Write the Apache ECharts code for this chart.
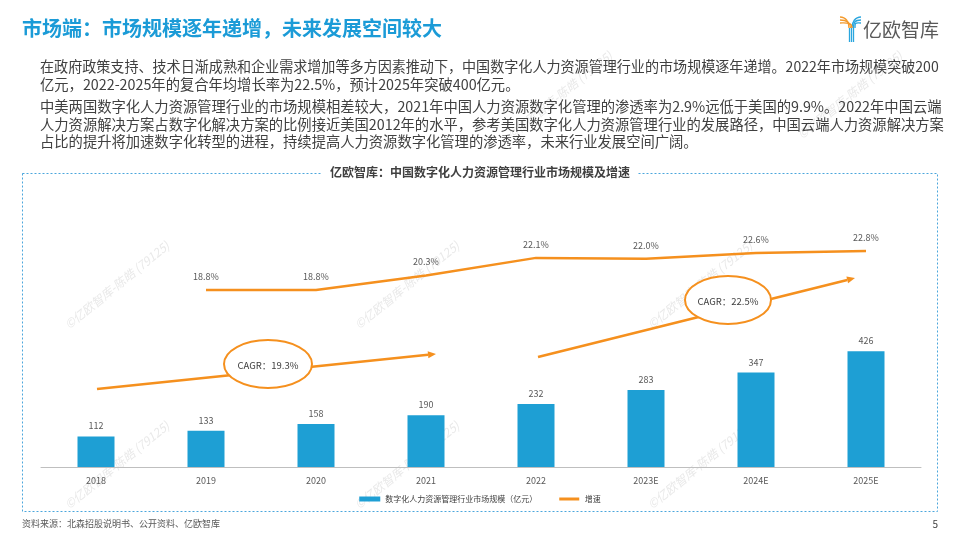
<!DOCTYPE html>
<html><head><meta charset="utf-8">
<script src="https://cdn.jsdelivr.net/npm/echarts@6/dist/echarts.min.js"></script>
<style>html,body{margin:0;padding:0;background:#fff}#c{width:960px;height:540px}</style>
</head><body><div id="c"></div>
<script>
const categories = ['2018','2019','2020','2021','2022','2023E','2024E','2025E'];
const marketSize = [112,133,158,190,232,283,347,426];
const growthRate = [null,18.8,18.8,20.3,22.1,22.0,22.6,22.8];
const barName = '数字化人力资源管理行业市场规模（亿元）';
const lineName = '增速';
const pageTitle = '市场端：市场规模逐年递增，未来发展空间较大';
const chartTitle = '亿欧智库：中国数字化人力资源管理行业市场规模及增速';
const paragraphLines = [
 '在政府政策支持、技术日渐成熟和企业需求增加等多方因素推动下，中国数字化人力资源管理行业的市场规模逐年递增。2022年市场规模突破200',
 '亿元，2022-2025年的复合年均增长率为22.5%，预计2025年突破400亿元。',
 '中美两国数字化人力资源管理行业的市场规模相差较大，2021年中国人力资源数字化管理的渗透率为2.9%远低于美国的9.9%。2022年中国云端',
 '人力资源解决方案占数字化解决方案的比例接近美国2012年的水平，参考美国数字化人力资源管理行业的发展路径，中国云端人力资源解决方案',
 '占比的提升将加速数字化转型的进程，持续提高人力资源数字化管理的渗透率，未来行业发展空间广阔。'
];
const cagrLabels = ['CAGR：19.3%','CAGR：22.5%'];
const sourceText = '资料来源：北森招股说明书、公开资料、亿欧智库';
const watermark = '©亿欧智库-陈皓 (79125)';

const FONT = '"Noto Sans CJK SC","Noto Sans",sans-serif';
const BLUE = '#1E9FD4';
const ORANGE = '#F5901E';

const chart = echarts.init(document.getElementById('c'));

const g = [];
// watermarks
[[117,285],[407,285],[700,285],[117,465],[407,465],[700,465],[560,95],[850,95]].forEach(p=>{
  g.push({type:'text',x:p[0],y:p[1],rotation:0.68,z:0,silent:true,
    style:{text:watermark,fill:'#e9e9e9',font:'italic 12px '+FONT,align:'center',verticalAlign:'middle'}});
});
// header
g.push({type:'text',x:22,y:28,z:5,style:{text:pageTitle,fill:'#1B9BD7',font:'bold 20px '+FONT,verticalAlign:'middle'}});
// logo
g.push({type:'text',x:863,y:30,z:5,style:{text:'亿欧智库',fill:'#595959',font:'19px '+FONT,verticalAlign:'middle'}});
[0,1,2].forEach(i=>{
  g.push({type:'bezierCurve',z:5,shape:{x1:840,y1:17+i*3,cpx1:846,cpy1:17+i*3,x2:849+i*1.5,y2:28,cpx2:849+i*1.5,cpy2:22},
    style:{stroke:'#F39A2D',lineWidth:1.3,fill:null}});
  g.push({type:'bezierCurve',z:5,shape:{x1:861,y1:17+i*3,cpx1:855,cpy1:17+i*3,x2:852+i*1.5,y2:28,cpx2:852+i*1.5,cpy2:22},
    style:{stroke:'#2BA6DE',lineWidth:1.3,fill:null}});
});
[849.5,851.5,853.5].forEach((x,i)=>{
  g.push({type:'line',z:5,shape:{x1:x,y1:28,x2:x,y2:42},style:{stroke:'#2BA6DE',lineWidth:1.3}});
});
// paragraphs
const lineY = [67,84.5,107,124.5,142];
const lineScale = [0.984,1,1,1,1];
paragraphLines.forEach((t,i)=>{
  g.push({type:'text',x:40,y:lineY[i],scaleX:lineScale[i],z:5,style:{text:t,fill:'#404040',font:'14.3px '+FONT,verticalAlign:'middle'}});
});
// dashed box
g.push({type:'rect',z:1,shape:{x:22.5,y:173.5,width:915,height:338},style:{fill:null,stroke:'#4BA6DC',lineWidth:1,lineDash:[2,2]}});
g.push({type:'rect',z:2,shape:{x:322,y:165,width:316,height:16},style:{fill:'#fff'}});
g.push({type:'text',x:480,y:172,z:3,style:{text:chartTitle,fill:'#404040',font:'bold 12px '+FONT,align:'center',verticalAlign:'middle'}});
// footer
g.push({type:'text',x:22,y:524,z:5,style:{text:sourceText,fill:'#595959',font:'9px '+FONT,verticalAlign:'middle'}});
g.push({type:'text',x:938,y:524,z:5,style:{text:'5',fill:'#404040',font:'10px '+FONT,align:'right',verticalAlign:'middle'}});
// CAGR annotations
const arrows = [
  {from:[97,389],to:[436,354],ellipse:[268,364,44,24],label:cagrLabels[0]},
  {from:[538,357],to:[855,278],ellipse:[728,300,43,24],label:cagrLabels[1]}
];
arrows.forEach(a=>{
  const dx=a.to[0]-a.from[0], dy=a.to[1]-a.from[1];
  const L=Math.hypot(dx,dy), ux=dx/L, uy=dy/L;
  const hl=8, hw=3.5;
  const bx=a.to[0]-ux*hl, by=a.to[1]-uy*hl;
  g.push({type:'line',z:6,shape:{x1:a.from[0],y1:a.from[1],x2:bx,y2:by},style:{stroke:ORANGE,lineWidth:2.5}});
  g.push({type:'polygon',z:6,shape:{points:[[a.to[0],a.to[1]],[bx-uy*hw,by+ux*hw],[bx+uy*hw,by-ux*hw]]},style:{fill:ORANGE}});
  const e=a.ellipse;
  g.push({type:'ellipse',z:7,shape:{cx:e[0],cy:e[1],rx:e[2],ry:e[3]},style:{fill:'#fff',stroke:ORANGE,lineWidth:2}});
  g.push({type:'text',z:8,x:e[0],y:e[1]+1,style:{text:a.label,fill:'#404040',font:'9.5px '+FONT,align:'center',verticalAlign:'middle'}});
});

chart.setOption({
  animation:false,
  textStyle:{fontFamily:FONT},
  grid:{left:41,right:39,top:195,bottom:73},
  legend:{bottom:32,left:'center',itemWidth:21,itemHeight:5,itemGap:22,
    textStyle:{fontSize:8,color:'#404040'},
    data:[{name:barName,icon:'rect'},
          {name:lineName,icon:'path://M0,0 M0,1 L20,1 L20,4 L0,4 Z M20,5'}]},
  xAxis:{type:'category',data:categories,
    axisLine:{lineStyle:{color:'#bfbfbf',width:1}},axisTick:{show:false},
    axisLabel:{color:'#595959',fontSize:9,margin:9}},
  yAxis:[
    {type:'value',min:0,max:1000,show:false,splitLine:{show:false}},
    {type:'value',min:0.65,max:28.55,show:false,splitLine:{show:false}}
  ],
  series:[
    {name:barName,type:'bar',data:marketSize,barWidth:37,itemStyle:{color:BLUE},
      label:{show:true,position:'top',distance:6,color:'#595959',fontSize:9}},
    {name:lineName,type:'line',yAxisIndex:1,data:growthRate,symbol:'circle',symbolSize:0,showSymbol:true,
      lineStyle:{color:ORANGE,width:2.5},itemStyle:{color:ORANGE},
      label:{show:true,position:'top',distance:9,color:'#595959',fontSize:9,
        formatter:p=>p.value==null?'':Number(p.value).toFixed(1)+'%'}}
  ],
  graphic:g
});
</script></body></html>
